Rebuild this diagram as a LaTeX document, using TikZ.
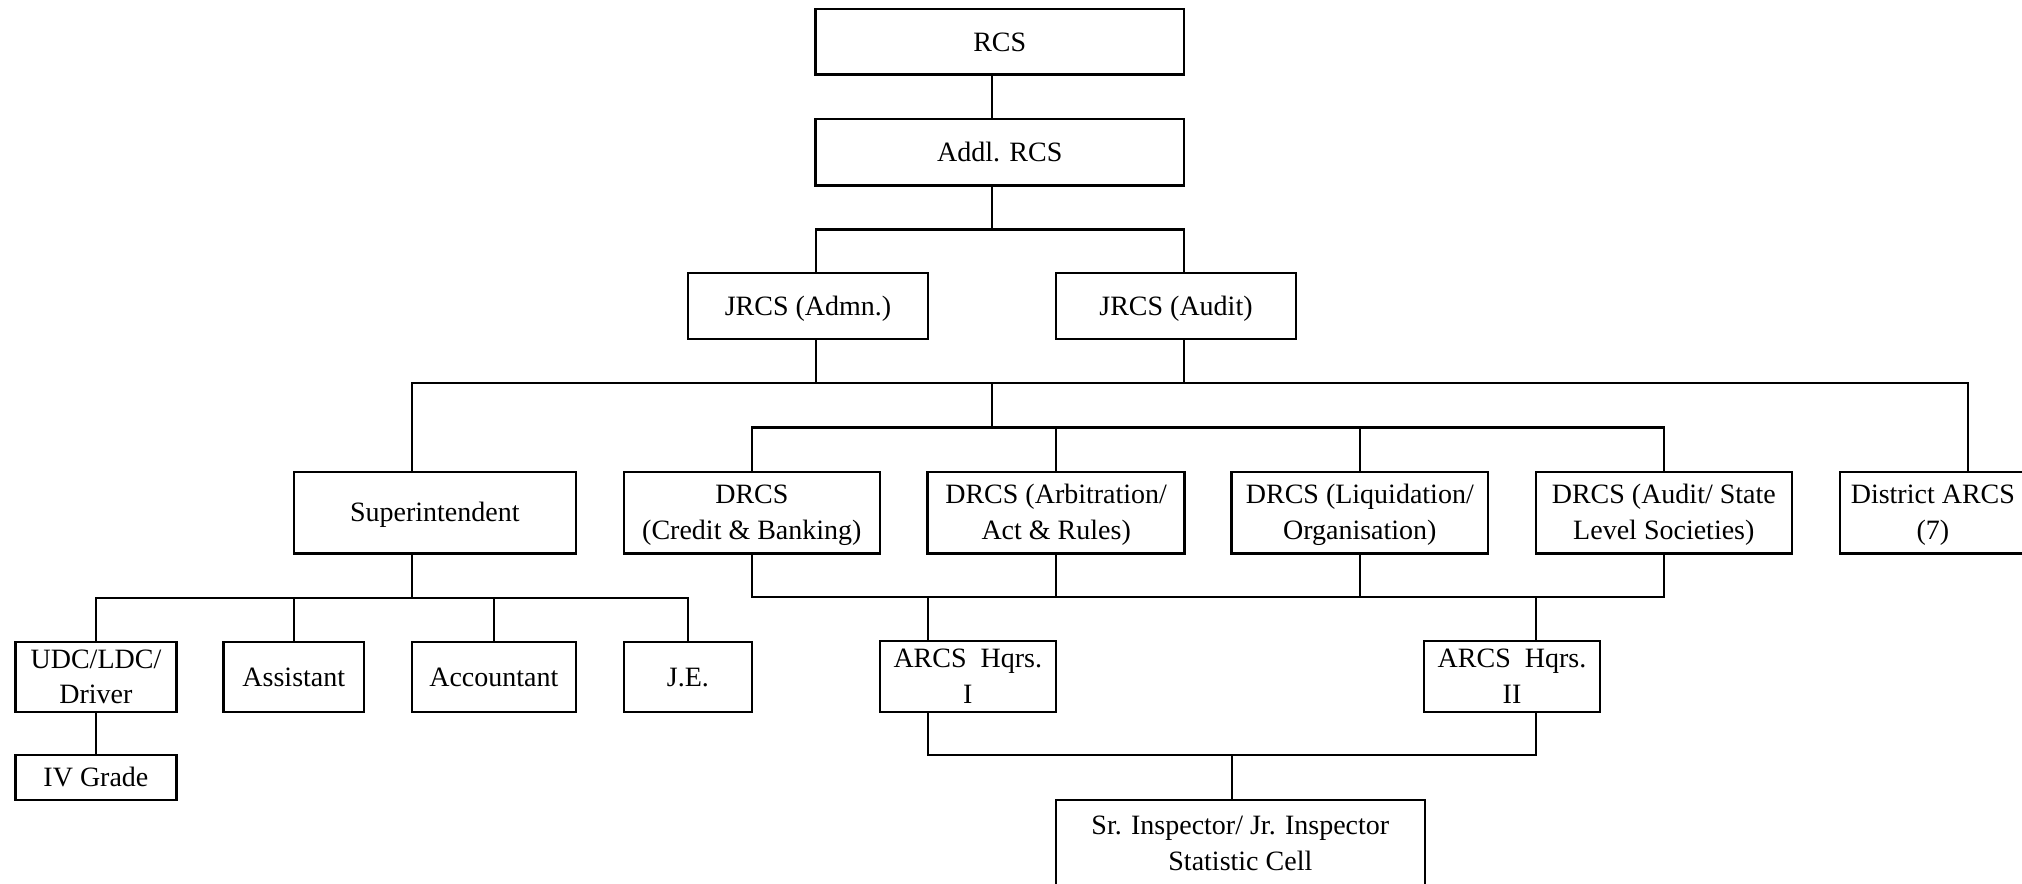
\documentclass[tikz,border=0pt]{standalone}
\usepackage{fontspec}
\setmainfont{Liberation Serif}
% two centred lines, baseline on the first one
\newcommand\duo[2]{\vtop{\halign{\hfil##\hfil\cr#1\cr#2\cr}}}
\begin{document}
\begin{tikzpicture}[x=0.5pt,y=-0.5pt,
  every node/.style={font=\fontsize{14pt}{17.85pt}\selectfont},
  box/.style 2 args={draw, line width=1.2pt, inner sep=0pt, outer sep=0pt,
    minimum width=#1*0.5pt, minimum height=#2*0.5pt,
    text height=9.3pt, text depth=0pt},
  boxtwo/.style 2 args={box={#1}{#2}, text depth=17.85pt},
  link/.style={line width=1.2pt}]
\useasboundingbox (0,0) rectangle (2022,883);

% top of the hierarchy
\node[box={368.5}{65.7}] (rcs)  at (999.75,41.85) {RCS};
\node[box={368.5}{66}]   (addl) at (999.75,152.3) {Addl. RCS};
\node[box={240}{66.3}]   (jadm) at (808,305.85)   {JRCS (Admn.)};
\node[box={240}{66.3}]   (jaud) at (1176,305.85)  {JRCS (Audit)};

% second tier
\node[box={282.3}{81.6}]    (supt) at (434.85,512.5)  {Superintendent};
\node[boxtwo={256.3}{81.6}] (dcb)  at (751.85,512.5)  {\duo{DRCS}{(Credit \& Banking)}};
\node[boxtwo={257}{81.6}]   (darb) at (1056.15,512.5) {\duo{DRCS (Arbitration/}{Act \& Rules)}};
\node[boxtwo={256.4}{81.6}] (dliq) at (1359.8,512.5)  {\duo{DRCS (Liquidation/}{Organisation)}};
\node[boxtwo={256}{81.6}]   (daud) at (1663.8,512.5)  {\duo{DRCS (Audit/ State}{Level Societies)}};
\node[boxtwo={186.3}{81.6}] (dist) at (1932.85,512.5) {\duo{District ARCS}{(7)}};

% office staff
\node[boxtwo={160.7}{70}] (udc)  at (95.95,676.7)  {\duo{UDC/LDC/}{Driver}};
\node[box={140.4}{70}]    (asst) at (293.8,676.7)  {Assistant};
\node[box={164.3}{70}]    (acct) at (493.85,676.7) {Accountant};
\node[box={128.3}{70}]    (je)   at (687.85,676.7) {J.E.};
\node[box={160.7}{45}]    (ivg)  at (95.95,777.5)  {IV Grade};

% headquarters
\node[boxtwo={176.2}{70.7}] (arcsa) at (967.8,676.5) {\duo{ARCS\ \ Hqrs.}{I}};
\node[boxtwo={176}{70.7}]   (arcsb) at (1512,676.5)  {\duo{ARCS\ \ Hqrs.}{II}};
\node[boxtwo={369.3}{86}]   (sri)   at (1240.35,843) {\duo{Sr. Inspector/ Jr. Inspector}{Statistic Cell}};

% junction points of the connectors
\coordinate (cA) at (992,229.3);
\coordinate (xa) at (815.7,383);
\coordinate (xb) at (1184,383);
\coordinate (cB) at (992,383);
\coordinate (xs) at (411.7,383);
\coordinate (xd) at (1967.7,383);
\coordinate (cC) at (992,427.3);
\coordinate (lvD) at (0,597);
\coordinate (xc) at (928,597);
\coordinate (xe) at (1536,597);
\coordinate (cF) at (1232,755);
\coordinate (cG) at (411.7,597.7);

% connectors
\draw[link] (rcs.south -| cA) -- (addl.north -| cA);
\draw[link] (addl.south -| cA) -- (cA);
\draw[link] (jadm.north -| xa) |- (cA) -| (jaud.north -| xb);
\draw[link] (jadm.south -| xa) -- (xa);
\draw[link] (jaud.south -| xb) -- (xb);
\draw[link] (supt.north -| xs) |- (cB) -| (dist.north -| xd);
\draw[link] (cB) -- (cC);
\draw[link] (dcb.north) |- (cC) -| (daud.north);
\draw[link] (darb.north) -- (darb.north |- cC);
\draw[link] (dliq.north) -- (dliq.north |- cC);
\draw[link] (dcb.south) |- (daud.south |- lvD) -- (daud.south);
\draw[link] (darb.south) -- (darb.south |- lvD);
\draw[link] (dliq.south) -- (dliq.south |- lvD);
\draw[link] (xc) -- (arcsa.north -| xc);
\draw[link] (xe) -- (arcsb.north -| xe);
\draw[link] (arcsa.south -| xc) |- (cF) -| (arcsb.south -| xe);
\draw[link] (cF) -- (sri.north -| cF);
\draw[link] (supt.south -| cG) -- (cG);
\draw[link] (udc.north) |- (cG) -| (je.north);
\draw[link] (asst.north) -- (asst.north |- cG);
\draw[link] (acct.north) -- (acct.north |- cG);
\draw[link] (udc) -- (ivg);
\end{tikzpicture}
\end{document}
